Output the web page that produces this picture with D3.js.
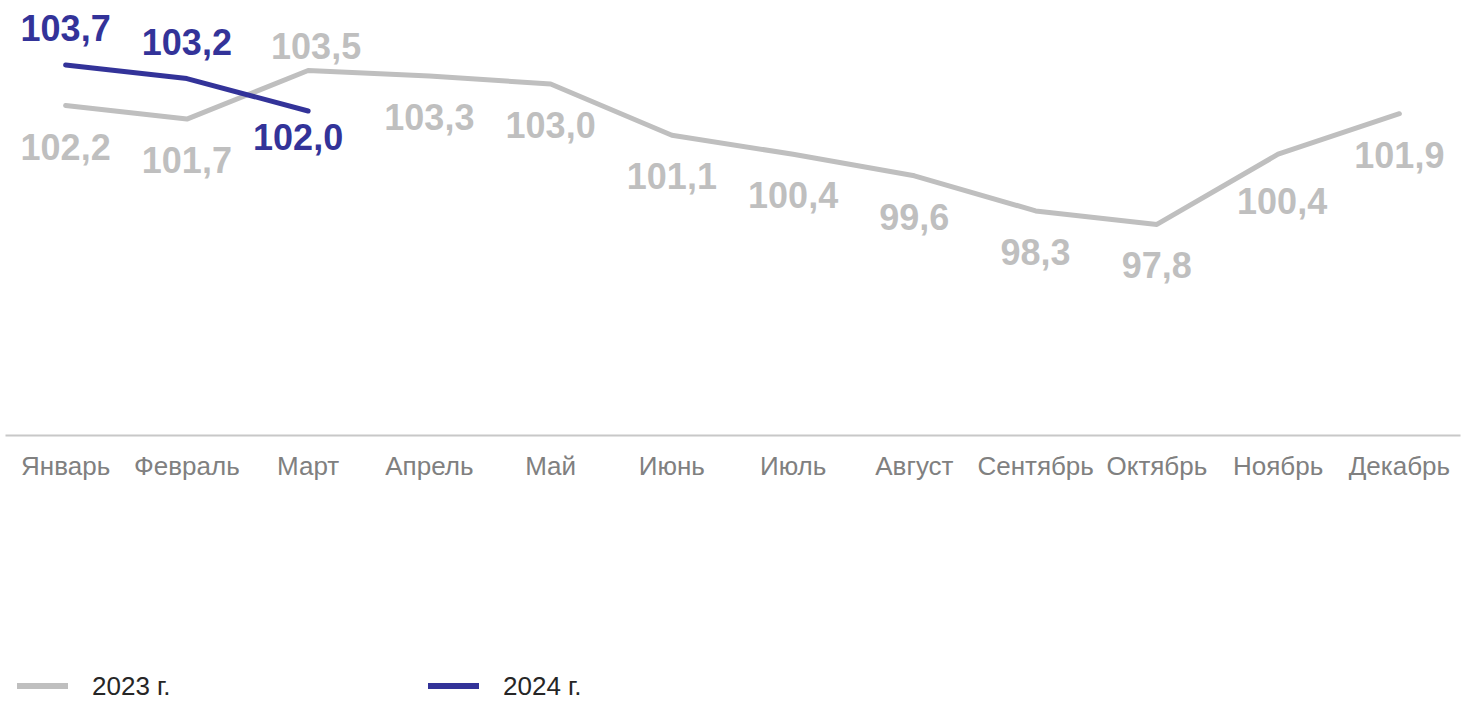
<!DOCTYPE html>
<html>
<head>
<meta charset="utf-8">
<script src="https://cdn.jsdelivr.net/npm/d3@7"></script>
<style>
  body { margin: 0; background: #fff; }
  text { font-family: Arial, "Liberation Sans", sans-serif; }
</style>
</head>
<body>
<script>
var months = ["Январь", "Февраль", "Март", "Апрель", "Май", "Июнь",
              "Июль", "Август", "Сентябрь", "Октябрь", "Ноябрь", "Декабрь"];
var values2023 = [102.2, 101.7, 103.5, 103.3, 103.0, 101.1, 100.4, 99.6, 98.3, 97.8, 100.4, 101.9];
var values2024 = [103.7, 103.2, 102.0];
// where the value label sits relative to its point
var place2023 = ["below", "below", "above", "below", "below", "below",
                 "below", "below", "below", "below", "below", "below"];
var place2024 = ["above", "above", "below"];
var seriesNames = ["2023 г.", "2024 г."];

var width = 1473, height = 703;
var grey = "#bfbfbf", blue = "#333399";

// hand nudges for labels that crowd each other around March
var nudge = {
  "2023-2": [8, 12],
  "2023-10": [4, 6],
  "2024-2": [-10, -15]
};

var svg = d3.select("body").append("svg")
    .attr("width", width)
    .attr("height", height);

var x = d3.scaleBand()
    .domain(months)
    .range([5, 1460]);

var y = d3.scaleLinear()
    .domain([90, 106])
    .range([435, 3]);

var cx = function(i) { return x(months[i]) + x.bandwidth() / 2; };

// axis line + month labels
var xAxis = svg.append("g")
    .attr("transform", "translate(0," + y(90) + ")")
    .call(d3.axisBottom(x).tickSize(0).tickPadding(22));
xAxis.select(".domain").attr("stroke", "#c8c8c8").attr("stroke-width", 2);
xAxis.selectAll("text")
    .attr("fill", "#808080")
    .style("font-size", "26px")
    .attr("dy", "0.69em");

var line = d3.line()
    .x(function(d, i) { return cx(i); })
    .y(function(d) { return y(d); });

var series = [
  { key: "2023", vals: values2023, place: place2023, color: grey },
  { key: "2024", vals: values2024, place: place2024, color: blue }
];

series.forEach(function(s) {
  svg.append("path")
      .datum(s.vals)
      .attr("fill", "none")
      .attr("stroke", s.color)
      .attr("stroke-width", 5)
      .attr("stroke-linejoin", "round")
      .attr("stroke-linecap", "round")
      .attr("d", line);
});

series.forEach(function(s) {
  svg.append("g").selectAll("text")
    .data(s.vals)
    .enter().append("text")
      .attr("x", function(d, i) {
        var n = nudge[s.key + "-" + i];
        return cx(i) + (n ? n[0] : 0);
      })
      .attr("y", function(d, i) {
        var n = nudge[s.key + "-" + i];
        var base = s.place[i] === "above" ? y(d) - 24 : y(d) + 54;
        return base + (n ? n[1] : 0);
      })
      .attr("text-anchor", "middle")
      .attr("fill", s.color)
      .style("font-size", "36px")
      .style("font-weight", "bold")
      .text(function(d) { return d.toFixed(1).replace(".", ","); });
});

// legend
var legend = svg.append("g").selectAll("g")
    .data(seriesNames)
    .enter().append("g")
      .attr("transform", function(d, i) { return "translate(" + (17 + i * 411) + ",686)"; });
legend.append("line")
    .attr("x1", 0).attr("x2", 51)
    .attr("stroke", function(d, i) { return series[i].color; })
    .attr("stroke-width", 6);
legend.append("text")
    .attr("x", 75)
    .attr("y", 9)
    .attr("fill", "#262626")
    .style("font-size", "26px")
    .text(function(d) { return d; });
</script>
</body>
</html>
